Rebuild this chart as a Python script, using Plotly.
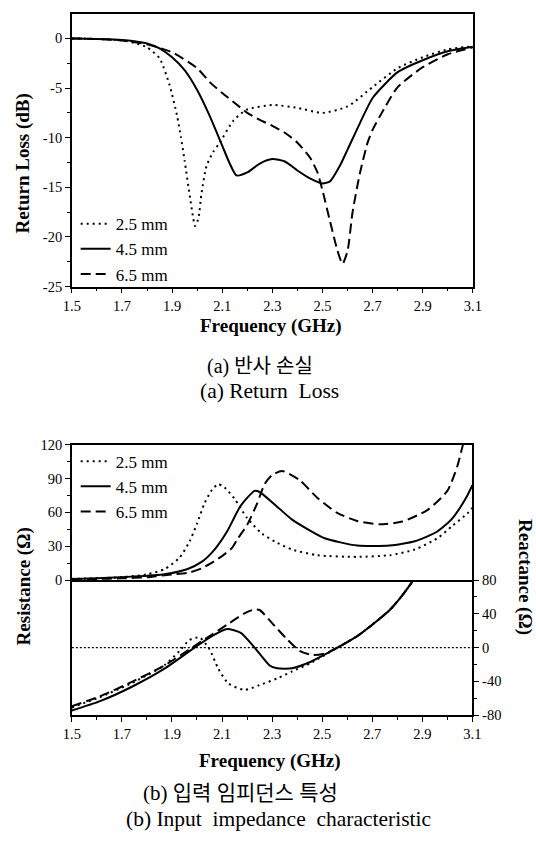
import plotly.graph_objects as go

W, H = 536, 849

# ---------------- (a) Return loss data ----------------
rl_f_25 = [1.5, 1.6, 1.7, 1.75, 1.8, 1.85, 1.89, 1.92, 1.935, 1.95, 1.972, 1.992, 2.005,
           2.018, 2.038, 2.065, 2.09, 2.144, 2.196, 2.3, 2.4, 2.5, 2.6, 2.7, 2.8, 2.9, 3.0, 3.1]
rl_25 = [0, -0.05, -0.2, -0.45, -0.9, -2.0, -4.7, -7.8, -9.9, -12.3, -16.1, -18.9, -18.1,
         -15.5, -12.8, -11.4, -10.5, -8.3, -7.2, -6.7, -7.0, -7.5, -6.85, -4.9, -3.0, -1.9, -1.1, -0.8]

rl_f_45 = [1.5, 1.6, 1.7, 1.75, 1.8, 1.85, 1.9, 1.95, 2.0, 2.05, 2.1, 2.13, 2.157, 2.2, 2.25, 2.3,
           2.35, 2.4, 2.45, 2.5, 2.53, 2.57, 2.6, 2.65, 2.7, 2.8, 2.9, 3.0, 3.1]
rl_45 = [0, -0.05, -0.15, -0.28, -0.5, -1.0, -1.9, -3.2, -5.2, -7.8, -10.8, -12.6, -13.8, -13.5,
         -12.6, -12.15, -12.4, -13.3, -14.1, -14.6, -14.4, -12.8, -11.2, -8.5, -6.0, -3.4, -2.2,
         -1.3, -0.85]

rl_f_65 = [1.5, 1.6, 1.7, 1.8, 1.9, 2.0, 2.05, 2.1, 2.15, 2.2, 2.25, 2.3, 2.35, 2.4, 2.45, 2.48,
           2.5, 2.53, 2.56, 2.58, 2.6, 2.62, 2.65, 2.68, 2.7, 2.75, 2.8, 2.9, 3.0, 3.1]
rl_65 = [0, -0.05, -0.2, -0.6, -1.4, -3.0, -4.4, -5.5, -6.5, -7.5, -8.2, -8.8, -9.5, -10.5, -12.0,
         -13.5, -15.3, -18.4, -21.4, -22.7, -21.4, -17.5, -13.5, -10.5, -9.2, -6.9, -4.9, -2.9, -1.6, -0.9]

# ---------------- (b) Input impedance data ----------------
res_f_25 = [1.5, 1.6, 1.7, 1.8, 1.87, 1.93, 1.97, 2.0, 2.03, 2.06, 2.085, 2.11, 2.15, 2.2, 2.26,
            2.32, 2.38, 2.48, 2.64, 2.77, 2.87, 2.96, 3.02, 3.08, 3.1]
res_25 = [1, 1.5, 2.5, 5, 9.6, 19.8, 34, 50, 68, 80, 85, 82, 72, 55, 41,
          33, 27, 22, 20.5, 22, 27, 37, 48, 59, 64]

res_f_45 = [1.5, 1.6, 1.74, 1.87, 1.96, 2.02, 2.07, 2.12, 2.175, 2.23, 2.25, 2.32, 2.38, 2.45,
            2.51, 2.64, 2.77, 2.87, 2.96, 3.02, 3.08, 3.1]
res_45 = [1, 1.5, 3, 5.2, 9.6, 16.3, 27, 43, 66, 79, 78, 65, 53.5, 44,
          37, 30.5, 30.5, 34.3, 43, 54.6, 75, 84]

res_f_65 = [1.5, 1.6, 1.7, 1.8, 1.9, 1.97, 2.02, 2.06, 2.1, 2.14, 2.16, 2.2, 2.24, 2.27, 2.3,
            2.34, 2.41, 2.48, 2.56, 2.64, 2.73, 2.82, 2.92, 3.0, 3.04, 3.06, 3.08]
res_65 = [0.5, 1, 1.5, 2.5, 5, 6.7, 10.5, 15.4, 21.2, 28.5, 35.7, 48.8, 67.7, 85, 93,
          96.7, 88.5, 73, 59.5, 52.3, 49.4, 51.8, 62, 79, 101, 118, 135]

reac_f_25 = [1.5, 1.61, 1.74, 1.87, 1.93, 1.97, 2.01, 2.05, 2.085, 2.125, 2.19, 2.25, 2.32, 2.38,
             2.45, 2.55, 2.64, 2.70, 2.77, 2.82, 2.865, 2.95]
reac_25 = [-71, -59, -42, -21, -4, 9, 12, -2, -25, -42.4, -50.2, -44.4, -36.6, -28.2,
           -19, -1.9, 13.6, 27.1, 44.5, 61.9, 80, 115]

reac_f_45 = [1.5, 1.61, 1.74, 1.87, 2.0, 2.06, 2.12, 2.175, 2.23, 2.29, 2.32, 2.35, 2.38, 2.45,
             2.55, 2.64, 2.70, 2.77, 2.82, 2.865, 2.95]
reac_45 = [-74.5, -63.8, -46.4, -25, 2, 13.6, 22, 17.4, 0, -21.2, -24.5, -25, -24.5, -17.4,
           -1.9, 13.6, 27.1, 44.5, 61.9, 80, 115]

reac_f_65 = [1.5, 1.61, 1.74, 1.87, 2.0, 2.06, 2.12, 2.19, 2.23, 2.25, 2.30, 2.36, 2.41, 2.46,
             2.51, 2.55, 2.64, 2.70, 2.77, 2.82, 2.865, 2.95]
reac_65 = [-69.5, -58, -40.6, -21.2, 3.9, 15.5, 27.1, 40.6, 45.2, 44.5, 29, 9.7, -3.8, -8.8,
           -7, -1.9, 13.6, 27.1, 44.5, 61.9, 80, 115]

series_names = ["2.5 mm", "4.5 mm", "6.5 mm"]
freq_ticks = [1.5, 1.7, 1.9, 2.1, 2.3, 2.5, 2.7, 2.9, 3.1]
freq_labels = ["1.5", "1.7", "1.9", "2.1", "2.3", "2.5", "2.7", "2.9", "3.1"]
rl_ticks = [0, -5, -10, -15, -20, -25]
rl_labels = ["0", "-5", "-10", "-15", "-20", "-25"]
res_ticks = [0, 30, 60, 90, 120]
res_labels = ["0", "30", "60", "90", "120"]
reac_ticks = [-80, -40, 0, 40, 80]
reac_labels = ["-80", "-40", "0", "40", "80"]

SERIF = "Liberation Serif, Times New Roman, serif"
MIX = "Liberation Serif, Noto Sans CJK KR, serif"
dashes = ["2px,4px", "solid", "10px,5px"]

fig = go.Figure()

rl_data = [(rl_f_25, rl_25), (rl_f_45, rl_45), (rl_f_65, rl_65)]
for (fx, fy), nm, ds in zip(rl_data, series_names, dashes):
    fig.add_trace(go.Scatter(x=fx, y=fy, mode="lines", name=nm, legend="legend",
                             line=dict(color="black", width=2, dash=ds, shape="spline", smoothing=0.6),
                             xaxis="x", yaxis="y"))

res_data = [(res_f_25, res_25), (res_f_45, res_45), (res_f_65, res_65)]
for (fx, fy), nm, ds in zip(res_data, series_names, dashes):
    fig.add_trace(go.Scatter(x=fx, y=fy, mode="lines", name=nm, legend="legend2",
                             line=dict(color="black", width=2, dash=ds, shape="spline", smoothing=0.6),
                             xaxis="x2", yaxis="y2"))

reac_data = [(reac_f_25, reac_25), (reac_f_45, reac_45), (reac_f_65, reac_65)]
for (fx, fy), nm, ds in zip(reac_data, series_names, dashes):
    fig.add_trace(go.Scatter(x=fx, y=fy, mode="lines", name=nm, showlegend=False,
                             line=dict(color="black", width=2, dash=ds, shape="spline", smoothing=0.6),
                             xaxis="x3", yaxis="y3"))

def px_x(p):
    return p / W

def px_y(p):
    return 1 - p / H

XDOM = [px_x(65), px_x(480)]
XDOM_B = [px_x(65), px_x(479.5)]
tickfont = dict(family=SERIF, size=14.5, color="black")
base = dict(showline=True, linecolor="black", linewidth=1.5, showgrid=False, zeroline=False)
xminor = dict(dtick=0.1, tick0=1.5, ticks="outside", ticklen=3, tickcolor="black", tickwidth=1)

fig.update_layout(
    width=W, height=H, margin=dict(l=0, r=0, t=0, b=0),
    paper_bgcolor="white", plot_bgcolor="white",
    xaxis=dict(domain=XDOM, anchor="y", range=[1.5, 3.1], tickvals=freq_ticks, ticktext=freq_labels,
               ticks="outside", ticklen=5, tickwidth=1.2, tickcolor="black", tickfont=tickfont,
               minor=xminor, mirror=True, **base),
    yaxis=dict(domain=[px_y(284), px_y(6)], anchor="x", range=[-25, 2.47], tickvals=rl_ticks,
               ticktext=rl_labels, ticks="outside", ticklen=5, tickwidth=1.2, tickcolor="black",
               tickfont=tickfont,
               minor=dict(dtick=2.5, tick0=0, ticks="outside", ticklen=3, tickcolor="black"),
               mirror=True, **base),
    xaxis2=dict(domain=XDOM_B, anchor="y2", range=[1.5, 3.1], showticklabels=False, ticks="",
                mirror=True, **base),
    yaxis2=dict(domain=[px_y(583), px_y(445)], anchor="x2", range=[0, 120], tickvals=res_ticks,
                ticktext=res_labels, ticks="outside", ticklen=5, tickwidth=1.2, tickcolor="black",
                tickfont=tickfont,
                minor=dict(dtick=15, tick0=0, ticks="outside", ticklen=3, tickcolor="black"),
                mirror=True, **base),
    xaxis3=dict(domain=XDOM_B, anchor="y3", range=[1.5, 3.1], matches="x2", tickvals=freq_ticks,
                ticktext=freq_labels, ticks="outside", ticklen=5, tickwidth=1.2, tickcolor="black",
                tickfont=tickfont, minor=xminor, mirror=False, **base),
    yaxis3=dict(domain=[px_y(720.7), px_y(583)], anchor="x3", side="right", range=[-80, 80],
                tickvals=reac_ticks, ticktext=reac_labels, ticks="outside", ticklen=5,
                tickwidth=1.2, tickcolor="black", tickfont=tickfont,
                minor=dict(dtick=20, tick0=0, ticks="outside", ticklen=3, tickcolor="black"),
                mirror=True, **base),
    legend=dict(x=px_x(69), y=px_y(202), xanchor="left", yanchor="top",
                bgcolor="rgba(0,0,0,0)", font=dict(family=SERIF, size=17, color="black"),
                tracegroupgap=0, itemwidth=30),
    legend2=dict(x=px_x(69), y=px_y(444), xanchor="left", yanchor="top",
                 bgcolor="rgba(0,0,0,0)", font=dict(family=SERIF, size=17, color="black"),
                 tracegroupgap=0, itemwidth=30),
)

# reactance zero reference line
fig.add_shape(type="line", xref="x3 domain", yref="y3", x0=0, x1=1, y0=0, y1=0,
              line=dict(color="black", width=1.3, dash="2px,2px"))

def ann(text, x, y, size, bold=False, angle=0, fam=SERIF, xanchor="center"):
    t = "<b>" + text + "</b>" if bold else text
    fig.add_annotation(text=t, xref="paper", yref="paper", x=px_x(x), y=px_y(y),
                       xanchor=xanchor, yanchor="middle", showarrow=False, textangle=angle,
                       font=dict(family=fam, size=size, color="black"))

ann("Return Loss (dB)", 14, 159, 19, bold=True, angle=-90)
ann("Frequency (GHz)", 271, 324, 19, bold=True)
ann("(a) 반사 손실", 260, 365, 20, fam=MIX)
ann("(a) Return  Loss", 270, 390, 21.5)
ann("Resistance (Ω)", 15, 589, 19, bold=True, angle=-90)
ann("Reactance (Ω)", 534, 580, 19, bold=True, angle=90)
ann("Frequency (GHz)", 270.5, 767.5, 19, bold=True)
ann("(b) 입력 임피던스 특성", 240, 800, 21, fam=MIX)
ann("(b) Input  impedance  characteristic", 279, 827, 21.5)

fig.write_html("out.html")
